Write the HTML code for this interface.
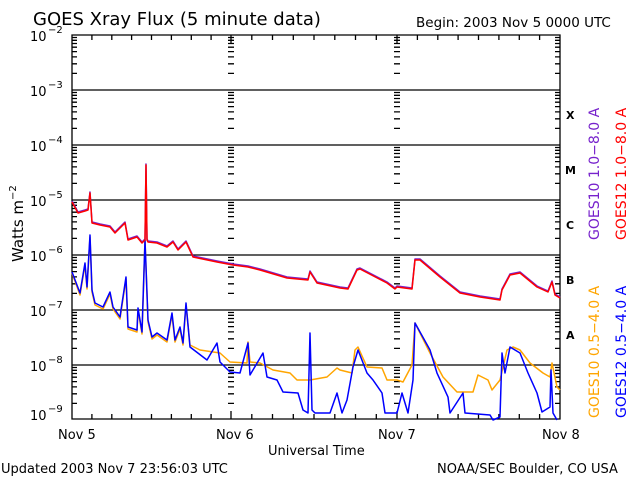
<!DOCTYPE html>
<html><head><meta charset="utf-8"><style>
html,body{margin:0;padding:0;background:#fff}
svg{display:block}
text{font-family:"DejaVu Sans","Liberation Sans",sans-serif;fill:#000}
</style></head><body>
<svg id="s" width="640" height="480" viewBox="0 0 640 480" xmlns="http://www.w3.org/2000/svg">
<rect width="640" height="480" fill="#fff"/>
<text x="33" y="25" font-size="18">GOES Xray Flux (5 minute data)</text>
<text x="416" y="27" font-size="13.5">Begin:  2003 Nov 5 0000 UTC</text>
<g id="grid" stroke="#000" stroke-width="1.3" fill="none"></g>
<g font-size="13">
<text x="30" y="41">10</text><text x="48" y="33" font-size="10">−2</text>
<text x="30" y="96">10</text><text x="48" y="88" font-size="10">−3</text>
<text x="30" y="151">10</text><text x="48" y="143" font-size="10">−4</text>
<text x="30" y="206">10</text><text x="48" y="198" font-size="10">−5</text>
<text x="30" y="261">10</text><text x="48" y="253" font-size="10">−6</text>
<text x="30" y="316">10</text><text x="48" y="308" font-size="10">−7</text>
<text x="30" y="371">10</text><text x="48" y="363" font-size="10">−8</text>
<text x="30" y="420">10</text><text x="48" y="412" font-size="10">−9</text>
</g>
<text transform="translate(23,262) rotate(-90)" font-size="15">Watts m<tspan font-size="10" dy="-7">−2</tspan></text>
<g font-family="Liberation Serif" font-weight="bold" font-size="11">
<text x="566" y="119">X</text><text x="565" y="174">M</text><text x="566" y="229">C</text><text x="566" y="284">B</text><text x="566" y="339">A</text>
</g>
<g font-size="13">
<text x="58" y="439">Nov 5</text><text x="216" y="439">Nov 6</text><text x="378" y="439">Nov 7</text><text x="542" y="439">Nov 8</text>
<text x="268" y="455">Universal Time</text>
<text x="1" y="473">Updated 2003 Nov  7 23:56:03 UTC</text>
<text x="437" y="473">NOAA/SEC Boulder, CO USA</text>
</g>
<g font-size="14">
<text transform="translate(599,240) rotate(-90)" style="fill:#7722cc">GOES10 1.0−8.0 A</text>
<text transform="translate(626,240) rotate(-90)" style="fill:#ff0000">GOES12 1.0−8.0 A</text>
<text transform="translate(599,418) rotate(-90)" style="fill:#ffa500">GOES10 0.5−4.0 A</text>
<text transform="translate(626,418) rotate(-90)" style="fill:#0000ff">GOES12 0.5−4.0 A</text>
</g>
<g fill="none" stroke-width="1.5" stroke-linejoin="round">
<polyline stroke="#ffa500" points="72,273 80,295 85,265 87,289 90,237 92,292 95,305 103,309 110,294 113,309 120,319 126,279 128,329 137,332 138,310 142,334 145,240 148,322 152,339 157,335 167,342 172,315 175,342 180,329 183,345 186,305 190,345 200,350 220,353 230,362 247,363 248,342 250,362 260,363 273,370 290,373 297,380 310,380 327,377 337,368 340,370 352,373 355,350 358,347 367,367 382,368 387,380 397,380 403,382 412,365 415,323 430,353 443,377 457,392 473,392 478,375 488,380 492,390 500,380 507,350 513,347 520,350 530,363 543,373 550,377 552,363 557,387 560,390"/>
<polyline stroke="#0000ff" points="72,272 80,293 85,263 87,287 90,235 92,290 95,303 103,307 110,292 113,307 120,317 126,277 128,327 137,330 138,308 142,332 145,240 148,320 152,337 157,333 167,340 172,313 175,340 180,327 183,343 186,303 190,347 207,360 217,343 220,362 230,372 240,373 248,343 250,375 263,353 267,377 277,380 283,392 298,393 303,410 308,413 310,333 312,410 315,413 330,413 337,393 342,413 347,400 353,367 358,350 367,373 373,380 382,393 385,413 397,413 402,393 408,413 413,380 415,323 430,350 437,373 448,397 450,413 463,393 465,413 490,415 493,420 500,417 502,353 505,373 510,347 520,353 528,373 537,393 542,412 550,407 551,370 553,413 557,420"/>
<polyline stroke="#7722cc" transform="translate(0,-1)" points="72,202 78,213 85,211 88,210 90,193 92,223 100,225 110,227 115,233 125,223 128,240 137,237 142,243 145,240 146,165 147,240 148,242 157,243 167,247 173,242 178,250 186,242 193,257 217,262 233,265 248,267 260,270 287,278 308,280 310,272 317,283 340,288 348,289 357,270 360,269 387,283 395,289 397,287 412,289 415,260 420,260 440,277 460,293 480,297 500,300 502,290 510,275 520,273 537,287 548,292 552,282 555,295 560,298"/>
<polyline stroke="#ff0000" points="72,202 78,213 85,211 88,210 90,193 92,223 100,225 110,227 115,233 125,223 128,240 137,237 142,243 145,240 146,165 147,240 148,242 157,243 167,247 173,242 178,250 186,242 193,257 217,262 233,265 248,267 260,270 287,278 308,280 310,272 317,283 340,288 348,289 357,270 360,269 387,283 395,289 397,287 412,289 415,260 420,260 440,277 460,293 480,297 500,300 502,290 510,275 520,273 537,287 548,292 552,282 555,295 560,298"/>
</g>
</svg>
<script>
var g=document.getElementById('grid'),d='';
var L=72,R=560,T=35,B=419;
d+='M'+L+' '+T+'H'+R+'V'+B+'H'+L+'Z';
for(var k=1;k<=6;k++){var y=T+55*k;d+='M'+L+' '+y+'H'+R;}
var days=[72,231,397,560];
for(var k=0;k<7;k++){var y0=T+55*(k+1);
 for(var m=2;m<=9;m++){var y=y0-55*Math.log10(m);
  d+='M'+L+' '+y.toFixed(1)+'h5';d+='M'+R+' '+y.toFixed(1)+'h-5';
  d+='M'+(231-3)+' '+y.toFixed(1)+'h6';d+='M'+(397-3)+' '+y.toFixed(1)+'h6';}}
for(var i=0;i<3;i++){var a=days[i],b=days[i+1];
 for(var h=1;h<8;h++){var x=(a+(b-a)*h/8).toFixed(1);d+='M'+x+' '+T+'v5M'+x+' '+B+'v-5';}}
[231,397].forEach(function(x){d+='M'+x+' '+T+'v8M'+x+' '+B+'v-8';});
var p=document.createElementNS('http://www.w3.org/2000/svg','path');p.setAttribute('d',d);g.appendChild(p);
</script>
</body></html>
